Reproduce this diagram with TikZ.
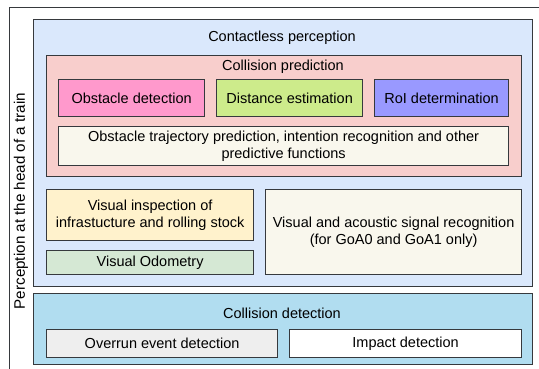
\documentclass[tikz,border=0pt]{standalone}
\usepackage{fontspec}
\setmainfont{Liberation Sans}
\usetikzlibrary{positioning}
\definecolor{edge}{RGB}{54,57,61}
\definecolor{perc}{RGB}{218,232,252}
\definecolor{pred}{RGB}{248,206,204}
\definecolor{obst}{RGB}{255,153,204}
\definecolor{dist}{RGB}{205,235,139}
\definecolor{roi}{RGB}{153,153,255}
\definecolor{cream}{RGB}{249,247,237}
\definecolor{insp}{RGB}{255,242,204}
\definecolor{odo}{RGB}{213,232,212}
\definecolor{cdet}{RGB}{177,221,240}
\definecolor{overrun}{RGB}{238,238,238}

\begin{document}
\begin{tikzpicture}[
      x=1pt,y=-1pt,
      font=\fontsize{14.5}{17}\selectfont,
      box/.style={draw=edge,line width=1.2pt,anchor=north west,inner sep=0pt,
                  align=center},
      ttl/.style={inner sep=0pt,anchor=center}
    ]
    \useasboundingbox (0,0) rectangle (539,369);
    \clip (0,0) rectangle (539,369);

    % outer frame, runs off the page on two sides
    \node[box,minimum width=620pt,minimum height=420pt] (head) at (9,7) {};
    \node[ttl,rotate=90,font=\fontsize{15.2}{18}\selectfont] (headlbl) at (21,201)
      {Perception at the head of a train};

    % contactless perception
    \node[box,fill=perc,minimum width=499pt,minimum height=267pt] (cp) at (33,19) {};
    \node[ttl] (cplbl) at (282,38) {Contactless perception};

    \node[box,fill=pred,minimum width=475pt,minimum height=121pt] (cpred) at (46,55) {};
    \node[ttl] (cpredlbl) at (283,67) {Collision prediction};

    \node[box,fill=obst,minimum width=146pt,minimum height=37pt] (obs) at (58,79) {Obstacle detection};
    \node[box,fill=dist,minimum width=146pt,minimum height=37pt] (dst) at (216,79) {Distance estimation};
    \node[box,fill=roi,minimum width=134pt,minimum height=37pt] (roi) at (374,79) {RoI determination};
    \node[box,fill=cream,minimum width=450pt,minimum height=39pt] (traj) at (58,126)
      {Obstacle trajectory prediction, intention recognition and other\\predictive functions};

    \node[box,fill=insp,minimum width=207pt,minimum height=51pt] (insp) at (46,189)
      {Visual inspection of\\infrastucture and rolling stock};
    \node[box,fill=odo,minimum width=207pt,minimum height=24pt] (odo) at (46,250) {Visual Odometry};
    \node[box,fill=cream,minimum width=256pt,minimum height=85pt] (sig) at (265,189)
      {Visual and acoustic signal recognition\\(for GoA0 and GoA1 only)};

    % collision detection
    \node[box,fill=cdet,minimum width=499pt,minimum height=71pt] (cdet) at (33,293) {};
    \node[ttl] (cdetlbl) at (282,313) {Collision detection};
    \node[box,fill=overrun,minimum width=231pt,minimum height=28pt] (over) at (46,329) {Overrun event detection};
    \node[box,fill=white,minimum width=232pt,minimum height=28pt] (imp) at (289,329) {Impact detection};
  \end{tikzpicture}
\end{document}
